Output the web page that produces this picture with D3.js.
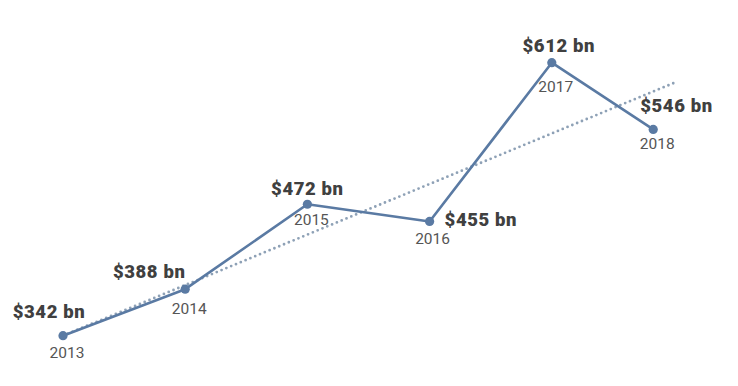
<!DOCTYPE html>
<html><head><meta charset="utf-8">
<script src="https://cdn.jsdelivr.net/npm/d3@7"></script>
<style>
html,body{margin:0;padding:0;background:#fff;}
svg{display:block;}
.val{font-family:Roboto,"Open Sans",sans-serif;font-weight:900;font-size:18.5px;letter-spacing:0.6px;fill:#404040;}
.yr{font-family:Roboto,"Open Sans",sans-serif;font-weight:400;font-size:15.5px;fill:#555;}
</style></head>
<body><svg id="c" width="738" height="386"></svg>
<script>
// data
const years = ["2013","2014","2015","2016","2017","2018"];
const xPos = [2013, 2014, 2015, 2016, 2017, 2017.83]; // plotted position along time axis
const values = [342, 388, 472, 455, 612, 546];
const valueLabels = ["$342 bn","$388 bn","$472 bn","$455 bn","$612 bn","$546 bn"];
const trendX = [2013, 2018];
const trendY = [342, 592];

// label layout (style, not data)
const layout = [
  {vdx:-14, vdy:-18, va:"middle", ydx:4, ydy:22},
  {vdx:-36, vdy:-11, va:"middle", ydx:4, ydy:25},
  {vdx:0,   vdy:-9,  va:"middle", ydx:4, ydy:21},
  {vdx:15,  vdy:5,   va:"start",  ydx:3, ydy:23},
  {vdx:7,   vdy:-11, va:"middle", ydx:4, ydy:29},
  {vdx:-13, vdy:-17, va:"start",  ydx:4, ydy:20}
];

const svg = d3.select("#c");
const x = d3.scaleLinear().domain([2013, 2018]).range([63, 674]);
const y = d3.scaleLinear().domain([342, 612]).range([335.7, 62.7]);

// trend line
svg.append("line")
  .attr("x1", x(trendX[0])).attr("y1", y(trendY[0]))
  .attr("x2", x(trendX[1])).attr("y2", y(trendY[1]))
  .attr("stroke", "#8ea1b6").attr("stroke-width", 2.8)
  .attr("stroke-dasharray", "0 5.2").attr("stroke-linecap", "round");

const pts = years.map((d,i)=>({yr:d, xv:xPos[i], v:values[i], lab:valueLabels[i], l:layout[i]}));

svg.append("path").datum(pts)
  .attr("fill","none").attr("stroke","#5a7aa3").attr("stroke-width",2.6)
  .attr("stroke-linejoin","round")
  .attr("d", d3.line().x(d=>x(d.xv)).y(d=>y(d.v)));

svg.selectAll("circle.p").data(pts).join("circle")
  .attr("cx", d=>x(d.xv)).attr("cy", d=>y(d.v)).attr("r", 4.6).attr("fill","#5a7aa3");

svg.selectAll("text.val").data(pts).join("text").attr("class","val")
  .attr("x", d=>x(d.xv)+d.l.vdx).attr("y", d=>y(d.v)+d.l.vdy)
  .attr("text-anchor", d=>d.l.va).text(d=>d.lab);

svg.selectAll("text.yr").data(pts).join("text").attr("class","yr")
  .attr("x", d=>x(d.xv)+d.l.ydx).attr("y", d=>y(d.v)+d.l.ydy)
  .attr("text-anchor","middle").text(d=>d.yr);
</script></body></html>
